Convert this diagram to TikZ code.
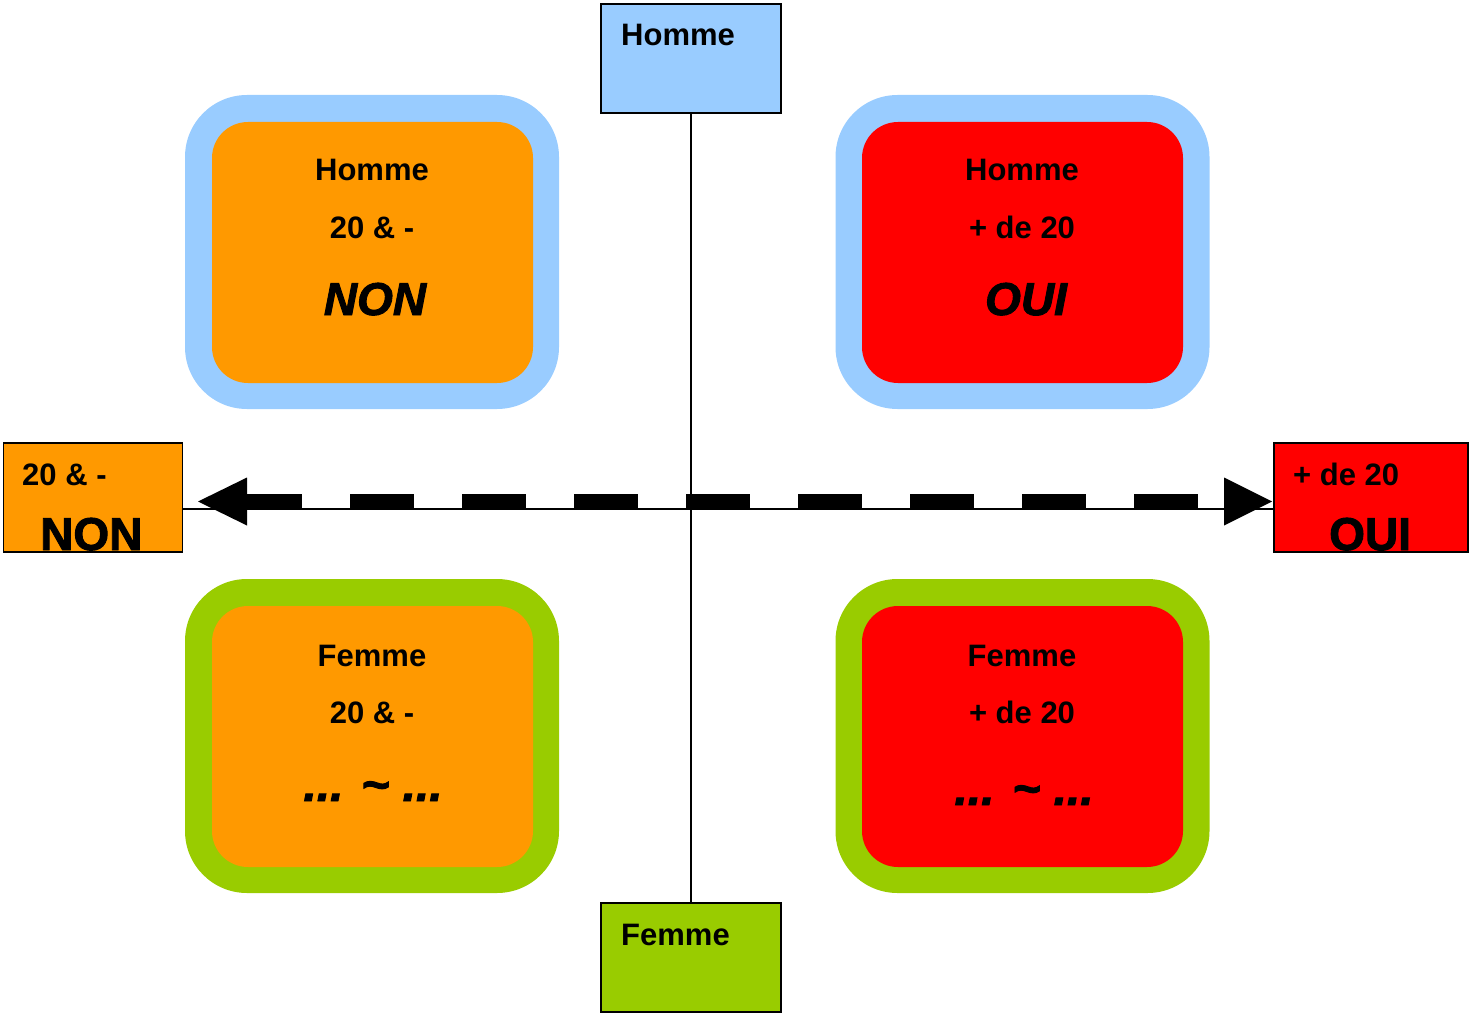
\documentclass[tikz,border=0pt]{standalone}
\usepackage{fontspec}
\setmainfont{Liberation Sans}
\newfontfamily\heavyfont[FakeBold=2]{Liberation Sans Bold}
\newfontfamily\heavyit[FakeBold=2]{Liberation Sans Bold Italic}
\definecolor{lblue}{HTML}{99CCFF}
\definecolor{orng}{HTML}{FF9900}
\definecolor{rred}{HTML}{FF0000}
\definecolor{grn}{HTML}{99CC00}
\begin{document}
\begin{tikzpicture}[x=1pt,y=-1pt,
  outerbox/.style={draw=none, rounded corners=62pt, minimum width=374pt, minimum height=314pt, inner sep=0},
  innerbox/.style={draw=none, rounded corners=36pt, minimum width=321pt, minimum height=261pt, inner sep=0},
  sidebox/.style={draw=black, line width=1.5pt, minimum height=109pt, inner sep=0},
  lbl/.style={font=\fontsize{31}{37}\selectfont\bfseries, inner sep=0, anchor=base},
  big/.style={font=\fontsize{46}{50}\selectfont\heavyit, inner sep=0, anchor=base},
  dots/.style={font=\fontsize{48}{50}\selectfont\heavyit, inner sep=0, anchor=base},
  sidebig/.style={font=\fontsize{46}{50}\selectfont\heavyfont, inner sep=0, anchor=base west},
  sidelbl/.style={font=\fontsize{31}{37}\selectfont\bfseries, inner sep=0, anchor=base west},
  axis/.style={draw=black, line width=2pt}
]
\useasboundingbox (0,0) rectangle (1470,1014);

% quadrants
\node[outerbox, fill=lblue] (tlout) at (372,252) {};
\node[innerbox, fill=orng] (tlin) at (372.5,252.5) {};
\node[outerbox, fill=lblue] (trout) at (1022.5,252) {};
\node[innerbox, fill=rred] (trin) at (1022.5,252.5) {};
\node[outerbox, fill=grn] (blout) at (372,736) {};
\node[innerbox, fill=orng] (blin) at (372.5,736.5) {};
\node[outerbox, fill=grn] (brout) at (1022.5,736) {};
\node[innerbox, fill=rred] (brin) at (1022.5,736.5) {};

\node[lbl] (tl1) at (372,181) {Homme};
\node[lbl] (tl2) at (372,238) {20 \& -};
\node[big] (tl3) at (375,315) {NON};
\node[lbl] (tr1) at (1022,181) {Homme};
\node[lbl] (tr2) at (1022,238) {+ de 20};
\node[big] (tr3) at (1026,315) {OUI};
\node[lbl] (bl1) at (372,666) {Femme};
\node[lbl] (bl2) at (372,723) {20 \& -};
\node[dots] (bl3) at (373,801) {... \textasciitilde{} ...};
\node[lbl] (br1) at (1022,666) {Femme};
\node[lbl] (br2) at (1022,723) {+ de 20};
\node[dots] (br3) at (1024,805) {... \textasciitilde{} ...};

% axis boxes
\node[sidebox, fill=lblue, minimum width=180pt] (homme) at (691,58.5) {};
\node[sidebox, fill=grn, minimum width=180pt] (femme) at (691,957.5) {};
\node[sidebox, fill=orng, minimum width=179pt] (lbox) at (93,497.5) {};
\node[sidebox, fill=rred, minimum width=194pt] (rbox) at (1371,497.5) {};

\node[sidelbl] (hommet) at (621,46) {Homme};
\node[sidelbl] (femmet) at (621,945) {Femme};
\node[sidelbl] (lboxt) at (22,485) {20 \& -};
\node[sidebig] (lboxb) at (40,550) {NON};
\node[sidebig] (rboxb) at (1329,550) {OUI};
\node[sidelbl] (rboxt) at (1293,485) {+ de 20};

% axes
\draw[axis] (homme.south) -- (femme.north);
\coordinate (hl) at (0,509);
\draw[axis] (lbox.east |- hl) -- (rbox.west |- hl);

% dashed double arrow
\coordinate (dL) at (238,501);
\coordinate (dR) at (1198,501);
\draw[line width=14pt, dash pattern=on 64pt off 48pt] (dL) -- (dR);
\coordinate (tipL) at (198,501.5);
\coordinate (tipR) at (1272,501.5);
\fill (tipL) -- (247,477.5) -- (247,525.5) -- cycle;
\fill (tipR) -- (1224,477.5) -- (1224,525.5) -- cycle;
\end{tikzpicture}
\end{document}
